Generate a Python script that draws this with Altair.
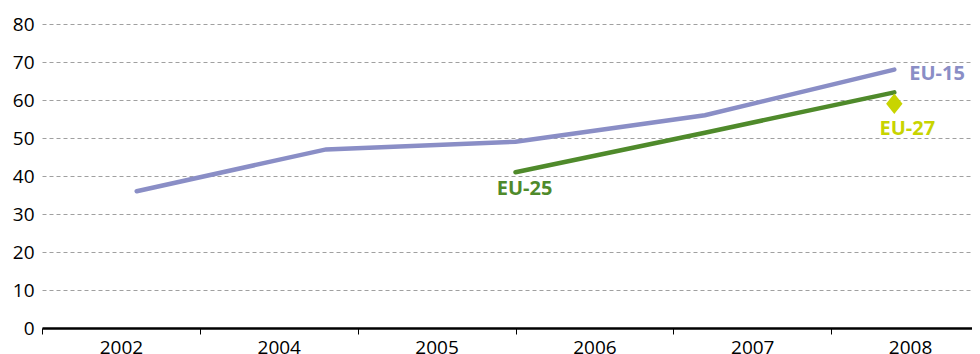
import altair as alt
import pandas as pd

# Axis categories (band axis)
axis_years = ["2002", "2004", "2005", "2006", "2007", "2008"]

# Line series positions (point scale, 5 evenly spaced steps)
steps = ["s1", "s2", "s3", "s4", "s5"]
eu15 = [36, 47, 49, 56, 68]
eu25_steps = ["s3", "s4", "s5"]
eu25 = [41, 51.4, 62]
eu27_steps = ["s5"]
eu27 = [59]

FONT = "Open Sans"
C15 = "#8a8ec6"
C25 = "#4f8a2b"
C27 = "#c8d400"

W = 947          # plot width; the right end runs past the page edge, as in the reference

axis_df = pd.DataFrame({"year": axis_years, "v": [0] * len(axis_years)})
df15 = pd.DataFrame({"step": steps, "value": eu15, "series": "EU-15"})
df25 = pd.DataFrame({"step": eu25_steps, "value": eu25, "series": "EU-25"})
df27 = pd.DataFrame({"step": eu27_steps, "value": eu27, "series": "EU-27"})

yscale = alt.Scale(domain=[0, 80], nice=False, zero=True)
yaxis = alt.Axis(values=list(range(0, 81, 10)), labelFont=FONT, labelFontSize=19,
                 labelColor="#000", labelPadding=8, ticks=False, domain=False,
                 grid=True, gridColor="#a0a0a0", gridDash=[4, 3], gridWidth=1)
xpoint = alt.Scale(domain=steps, type="point", padding=0.5)

axis_layer = alt.Chart(axis_df).mark_tick(opacity=0).encode(
    x=alt.X("year:N", sort=axis_years, title=None,
            scale=alt.Scale(domain=axis_years, paddingInner=0, paddingOuter=0),
            axis=alt.Axis(labelAngle=0, labelFont=FONT, labelFontSize=19, labelColor="#000",
                          labelPadding=4, tickBand="extent", tickColor="#000", tickSize=6,
                          tickWidth=1, domainColor="#000", domainWidth=2.5, grid=False)),
    y=alt.Y("v:Q", scale=yscale, title=None, axis=yaxis),
)

def yenc():
    return alt.Y("value:Q", scale=yscale, title=None, axis=yaxis)

def xenc():
    return alt.X("step:N", scale=xpoint, axis=None, sort=steps)

def line(df, color):
    return alt.Chart(df).mark_line(color=color, strokeWidth=4.5, strokeCap="round").encode(
        x=xenc(), y=yenc())

l15 = line(df15, C15)
l25 = line(df25, C25)
p27 = alt.Chart(df27).mark_point(shape="M0,-1L0.8,0L0,1L-0.8,0Z", filled=True, size=420,
                                 color=C27, opacity=1).encode(x=xenc(), y=yenc())

def label(df, color, idx, dx, dy, align):
    d = df.iloc[[idx]]
    return alt.Chart(d).mark_text(font=FONT, fontSize=20, fontWeight="bold", color=color,
                                  dx=dx, dy=dy, align=align, baseline="middle").encode(
        x=xenc(), y=yenc(), text="series:N")

t15 = label(df15, C15, -1, 15, 4, "left")
t27 = label(df27, C27, 0, 13, 25, "center")
t25 = label(df25, C25, 0, 9, 17, "center")

chart = alt.layer(axis_layer, l15, l25, p27, t15, t27, t25).resolve_scale(
    x="independent"
).properties(
    width=W, height=304,
    autosize=alt.AutoSizeParams(type="none"),
    padding={"left": 34, "top": 16, "right": -17, "bottom": 26},
).configure_view(stroke=None)

chart.save("out.html", embed_options={"renderer": "svg", "actions": False})
